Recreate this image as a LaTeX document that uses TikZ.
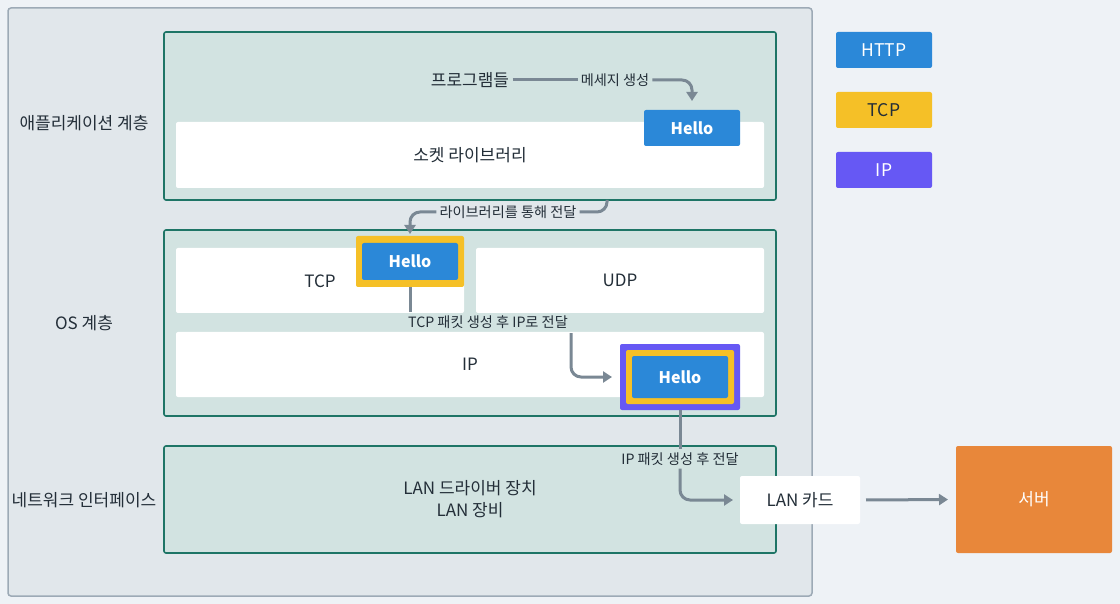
\documentclass[tikz,border=0pt]{standalone}
\usepackage{fontspec}
\setmainfont{Noto Sans CJK KR}
\usetikzlibrary{arrows.meta}

\definecolor{pagebg}{HTML}{EEF2F6}
\definecolor{outerfill}{HTML}{E1E7EB}
\definecolor{outerdraw}{HTML}{9DAAB6}
\definecolor{layerfill}{HTML}{D2E3E1}
\definecolor{layerdraw}{HTML}{1E7566}
\definecolor{textc}{HTML}{232E38}
\definecolor{arrowc}{HTML}{7A8894}
\definecolor{helloblue}{HTML}{2B88D8}
\definecolor{tcpyellow}{HTML}{F5C027}
\definecolor{ippurple}{HTML}{6658F4}
\definecolor{serverorange}{HTML}{E8873A}

\tikzset{
  box/.style={inner sep=0pt, outer sep=0pt, rounded corners=2pt, text=textc,
    font=\fontsize{17}{21}\selectfont},
  layer/.style={box, draw=layerdraw, fill=layerfill, line width=1.6pt},
  whitebox/.style={box, fill=white},
  hellobox/.style={box, fill=helloblue, text=white,
    font=\fontsize{16}{19}\selectfont\bfseries, minimum width=96, minimum height=37},
  legendbox/.style={box, minimum width=96, minimum height=36,
    font=\fontsize{17.5}{21}\selectfont},
  sidelabel/.style={text=textc, font=\fontsize{17}{21}\selectfont},
  steplabel/.style={text=textc, inner sep=3pt, font=\fontsize{14.2}{17}\selectfont},
  flow/.style={draw=arrowc, line width=3pt, rounded corners=10pt},
  tip/.style={-{Triangle[length=9pt,width=11pt]}}
}

\begin{document}
\begin{tikzpicture}[x=1pt,y=-1pt]
  \fill[pagebg] (0,0) rectangle (1120,604);
  \useasboundingbox (0,0) rectangle (1120,604);
  \draw[outerdraw, fill=outerfill, line width=1.5pt, rounded corners=3pt] (8,8) rectangle (812,596);

  % layers
  \node[layer, minimum width=612, minimum height=168] (app) at (470,116) {};
  \node[layer, minimum width=612, minimum height=186] (os) at (470,323) {};
  \node[layer, minimum width=612, minimum height=107, align=center] (net) at (470,499.5)
    {LAN 드라이버 장치\\[1pt]LAN 장비};

  \node[sidelabel] (appl) at (84,123) {애플리케이션 계층};
  \node[sidelabel] (osl) at (84,323) {OS 계층};
  \node[sidelabel] (netl) at (84,500) {네트워크 인터페이스};

  % application layer
  \node[whitebox, minimum width=588, minimum height=66] (sock) at (470,155) {소켓 라이브러리};
  \node[sidelabel] (prog) at (470,80) {프로그램들};
  \node[steplabel] (msg) at (615,80) {메세지 생성};
  \node[hellobox, minimum height=36] (hello1) at (692,128) {Hello};

  % os layer
  \node[whitebox, minimum width=288, minimum height=65] (tcp) at (320,280.5) {\hspace*{0pt}};
  \node[sidelabel] (tcpt) at (320,281) {TCP};
  \node[whitebox, minimum width=288, minimum height=65] (udp) at (620,280.5) {UDP};
  \node[whitebox, minimum width=588, minimum height=65] (ip) at (470,364.5) {IP};
  \node[box, fill=tcpyellow, minimum width=108, minimum height=51] (hello2) at (410,261.5) {};
  \node[hellobox] (hello2in) at (410,261.5) {Hello};
  \node[box, fill=ippurple, minimum width=120, minimum height=66] (hello3) at (680,377) {};
  \node[box, fill=tcpyellow, minimum width=108, minimum height=54] (hello3mid) at (680,377) {};
  \node[hellobox, minimum height=42] (hello3in) at (680,377) {Hello};

  % network side
  \node[whitebox, minimum width=120, minimum height=48] (lan) at (800,500) {LAN 카드};
  \node[box, fill=serverorange, text=white, minimum width=156, minimum height=107] (server) at (1034,499.5) {서버};

  % labels on the way
  \node[steplabel] (libl) at (508,212) {라이브러리를 통해 전달};
  \node[steplabel] (tcpl) at (488,322) {TCP 패킷 생성 후 IP로 전달};
  \node[steplabel] (ipl) at (680,459) {IP 패킷 생성 후 전달};
  \coordinate (libstart) at (607,200);
  \coordinate (tcpstart) at (571,333);

  \begin{scope}[flow]
    \draw (prog.east) -- (msg.west);
    \draw[tip, shorten >=9pt] (msg.east) -| (hello1.north);
    \draw (libstart) |- (libl.east);
    \draw[tip, shorten >=2pt] (libl.west) -| (hello2.north);
    \draw (hello2.south) -- (hello2.south |- tcpl.north);
    \draw[tip, shorten >=8pt] (tcpstart) |- (hello3.west);
    \draw (hello3.south) -- (ipl.north);
    \draw[tip, shorten >=7pt] (ipl.south) |- (lan.west);
    \draw[tip, rounded corners=0pt, shorten <=6pt, shorten >=8pt] (lan.east) -- (server.west);
  \end{scope}

  % legend
  \node[legendbox, fill=helloblue, text=white] (http) at (884,50) {HTTP};
  \node[legendbox, fill=tcpyellow] (tcpleg) at (884,110) {TCP};
  \node[legendbox, fill=ippurple, text=white] (ipleg) at (884,170) {IP};
\end{tikzpicture}
\end{document}
